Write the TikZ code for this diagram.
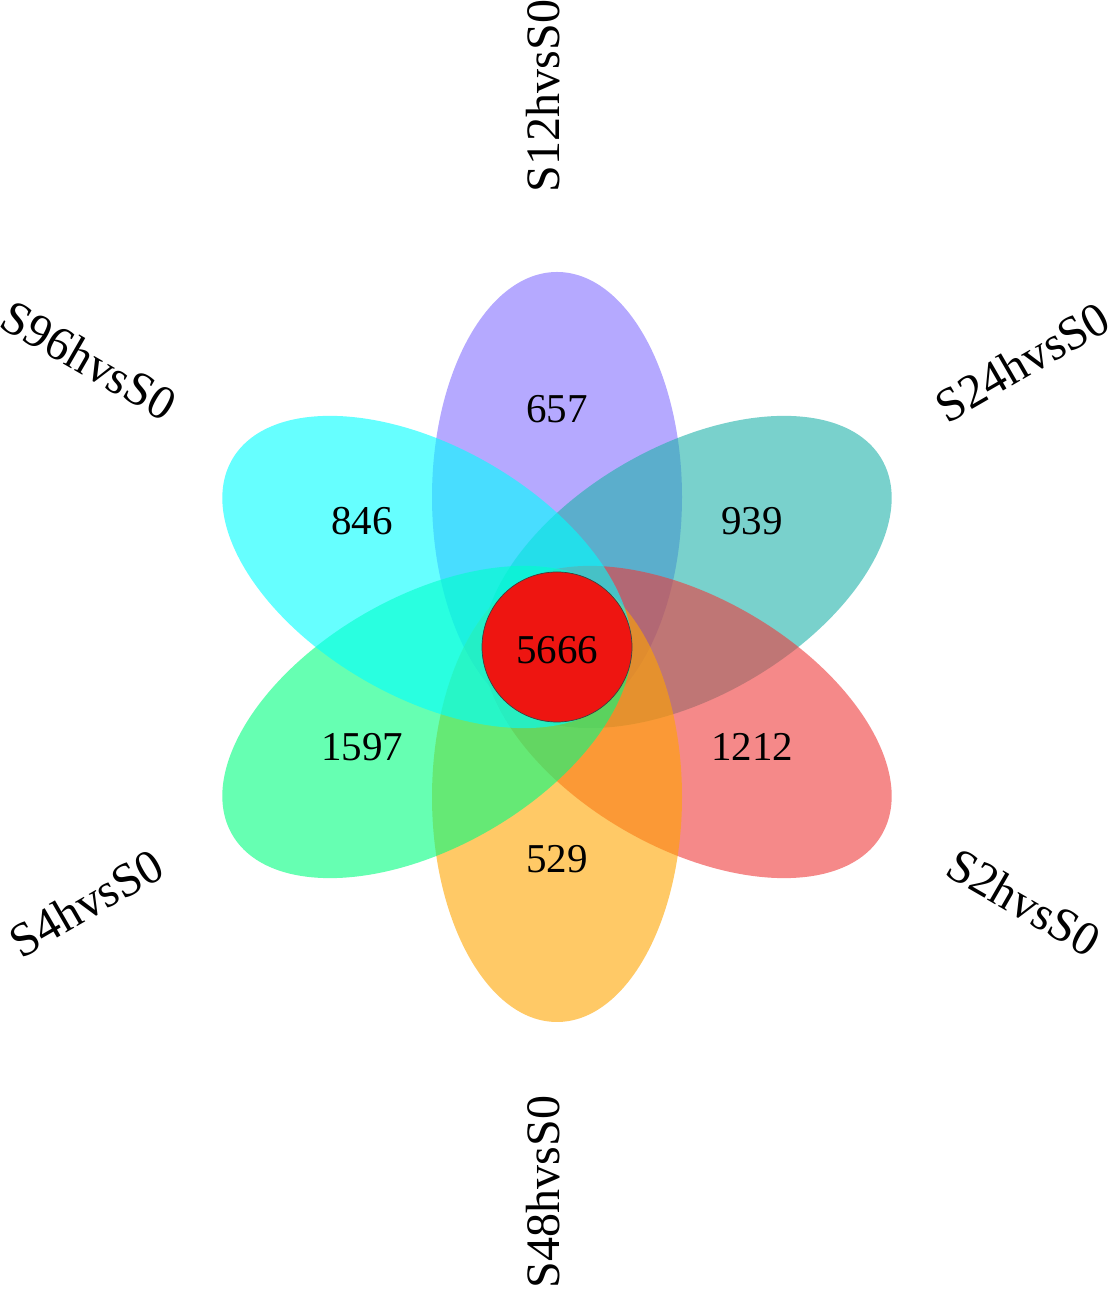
\documentclass[tikz,border=0pt]{standalone}
\usepackage{fontspec}
\setmainfont{Liberation Serif}
\definecolor{cpurple}{RGB}{132,112,255}
\definecolor{cteal}{RGB}{32,178,170}
\definecolor{cred}{RGB}{238,59,59}
\definecolor{corange}{RGB}{255,165,0}
\definecolor{cgreen}{RGB}{0,255,127}
\definecolor{ccyan}{RGB}{0,255,255}
\definecolor{ccore}{RGB}{238,21,17}
\begin{document}
\begin{tikzpicture}[x=1pt,y=1pt,
  petal/.style={fill opacity=0.6},
  num/.style={inner sep=0pt,font=\fontsize{41}{41}\selectfont},
  setlabel/.style={inner sep=0pt,font=\fontsize{48}{48}\selectfont}]
\useasboundingbox (0,0) rectangle (1110,1290);
% petals
\fill[petal,cpurple] (557,793) ellipse (125 and 225);
\fill[petal,cteal,rotate around={-60:(687,718)}] (687,718) ellipse (125 and 225);
\fill[petal,cred,rotate around={60:(687,568)}] (687,568) ellipse (125 and 225);
\fill[petal,corange] (557,493) ellipse (125 and 225);
\fill[petal,cgreen,rotate around={-60:(427,568)}] (427,568) ellipse (125 and 225);
\fill[petal,ccyan,rotate around={60:(427,718)}] (427,718) ellipse (125 and 225);
% core
\node[circle,minimum size=150pt,inner sep=0pt,fill=ccore,draw=black!75,line width=0.7pt] (core) at (557,643) {};
% counts
\node[num] (n657) at (557,881) {657};
\node[num] (n846) at (362,769) {846};
\node[num] (n939) at (752,769) {939};
\node[num] (n5666) at (557,640) {5666};
\node[num] (n1597) at (362,543) {1597};
\node[num] (n1212) at (752,543) {1212};
\node[num] (n529) at (557,431) {529};
% set labels
\node[setlabel,rotate=90] (l12) at (543,1194) {S12hvsS0};
\node[setlabel,rotate=90] (l48) at (543,98) {S48hvsS0};
\node[setlabel,rotate=-30] (l96) at (89,930) {S96hvsS0};
\node[setlabel,rotate=30] (l24) at (1022,928) {S24hvsS0};
\node[setlabel,rotate=30] (l4) at (86,387) {S4hvsS0};
\node[setlabel,rotate=-30] (l2) at (1024,388) {S2hvsS0};
\end{tikzpicture}
\end{document}
